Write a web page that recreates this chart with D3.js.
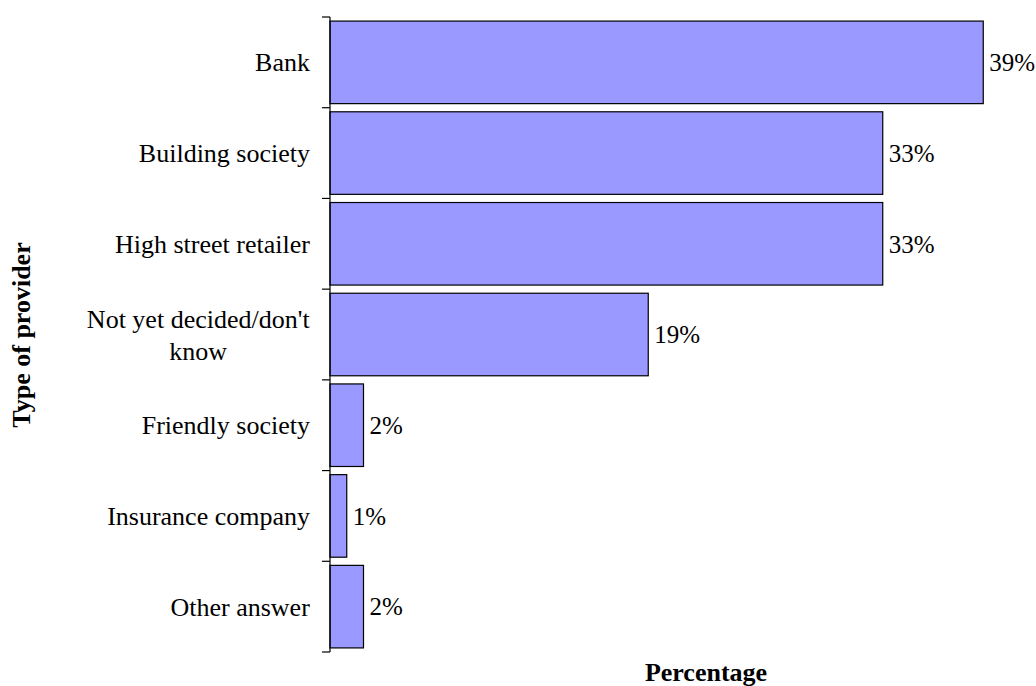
<!DOCTYPE html>
<html><head><meta charset="utf-8">
<script src="https://cdn.jsdelivr.net/npm/d3@7"></script>
<style>body{margin:0;background:#fff}svg{display:block}text{font-family:"Liberation Serif","Times New Roman",serif;fill:#000}</style>
</head><body>
<svg id="c" width="1036" height="686"></svg>
<script>
const categories = ["Bank","Building society","High street retailer","Not yet decided/don't know","Friendly society","Insurance company","Other answer"];
const categoryLines = [["Bank"],["Building society"],["High street retailer"],["Not yet decided/don't","know"],["Friendly society"],["Insurance company"],["Other answer"]];
const values = [39,33,33,19,2,1,2];
const valueLabels = ["39%","33%","33%","19%","2%","1%","2%"];

const svg = d3.select("#c");
const x0 = 330, fs = 26, vfs = 25;
const x = d3.scaleLinear().domain([0,40]).range([x0, x0 + 40*16.75]);
const y = d3.scaleBand().domain(categories).range([17,652]).paddingInner(0.09).paddingOuter(0.045);

svg.selectAll("rect.bar").data(categories).enter().append("rect")
  .attr("x", x(0)).attr("y", d=>y(d))
  .attr("width", (d,i)=>x(values[i])-x(0)).attr("height", y.bandwidth())
  .attr("fill","#9999ff").attr("stroke","#000").attr("stroke-width",1.2);

svg.append("line").attr("x1",x0).attr("x2",x0).attr("y1",17).attr("y2",652).attr("stroke","#000").attr("stroke-width",1.2);
const step = (652-17)/categories.length;
svg.selectAll("line.tk").data(d3.range(categories.length+1)).enter().append("line")
  .attr("x1",x0-8).attr("x2",x0).attr("y1",i=>17+i*step).attr("y2",i=>17+i*step)
  .attr("stroke","#000").attr("stroke-width",1.2);

categories.forEach((c,i)=>{
  const lines = categoryLines[i];
  const cy = y(c)+y.bandwidth()/2;
  const lh = 32;
  const t = svg.append("text").attr("text-anchor","middle").attr("font-size",fs);
  lines.forEach((l,j)=>{
    t.append("tspan").attr("x",0).attr("y", cy + (j-(lines.length-1)/2)*lh).attr("dy","0.35em").text(l);
  });
  const w = t.node().getBBox().width;
  t.attr("transform",`translate(${310 - w/2},0)`);
});

svg.selectAll("text.val").data(categories).enter().append("text")
  .attr("x",(d,i)=>x(values[i])+6).attr("y",d=>y(d)+y.bandwidth()/2).attr("dy","0.35em")
  .attr("font-size",vfs).text((d,i)=>valueLabels[i]);

svg.append("text").attr("x",706).attr("y",681).attr("text-anchor","middle")
  .attr("font-size",fs).attr("font-weight","bold").text("Percentage");
svg.append("text").attr("transform","translate(30,335) rotate(-90)").attr("text-anchor","middle")
  .attr("font-size",fs).attr("font-weight","bold").text("Type of provider");
</script>
</body></html>
